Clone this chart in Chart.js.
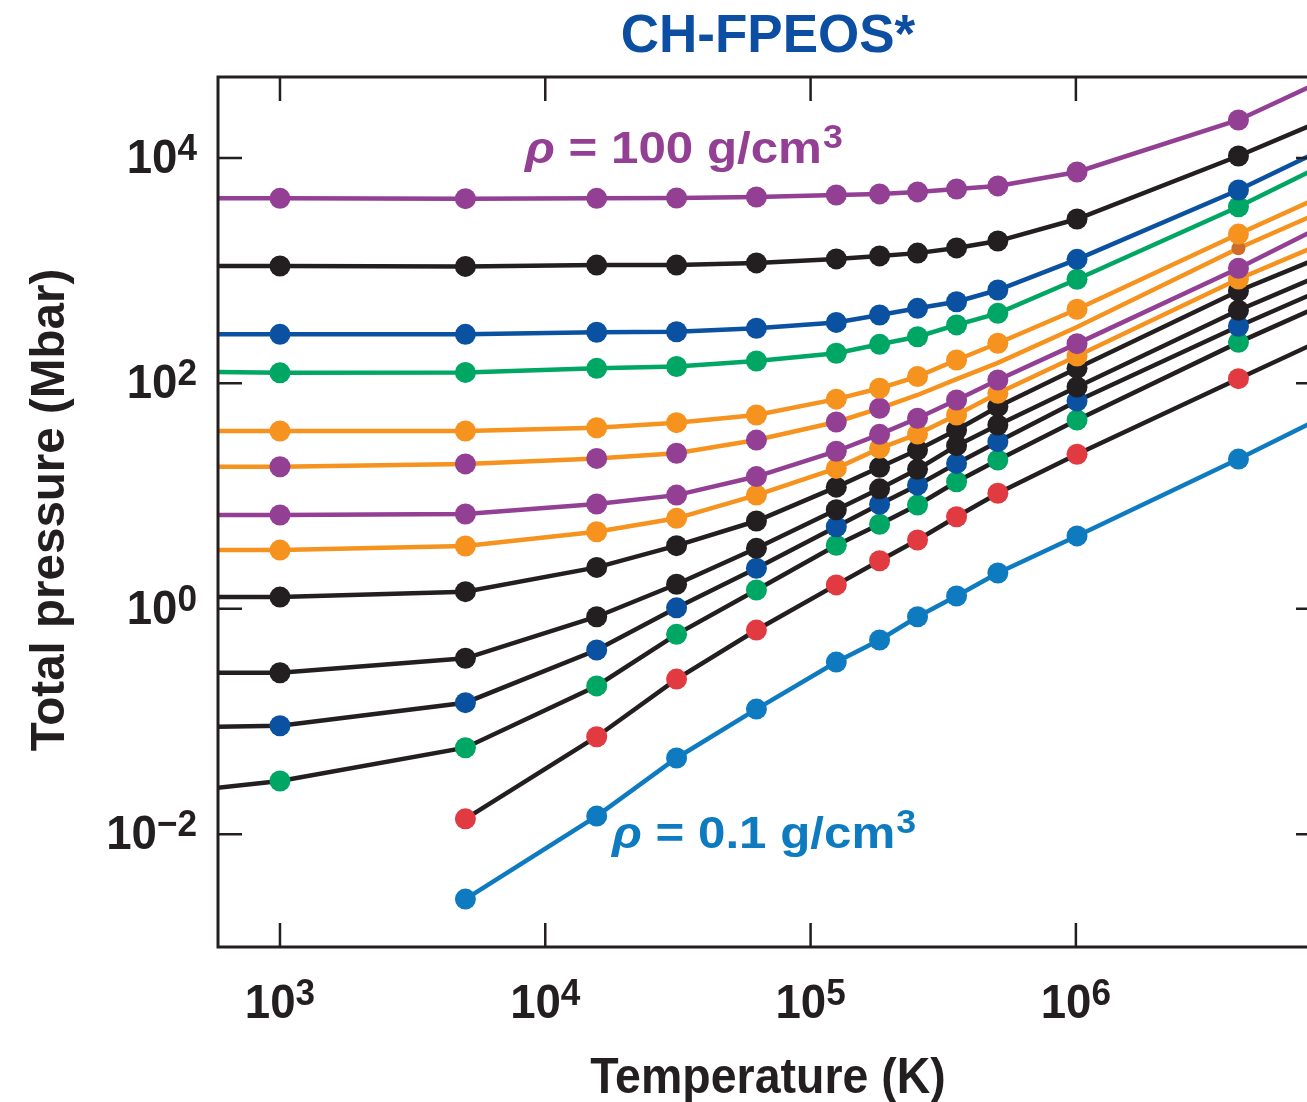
<!DOCTYPE html>
<html>
<head>
<meta charset="utf-8">
<script src="https://cdn.jsdelivr.net/npm/chart.js@4.4.1/dist/chart.umd.min.js"></script>
<style>
html, body { margin: 0; padding: 0; background: #fff; overflow: hidden; }
canvas { display: block; }
</style>
</head>
<body>
<canvas id="chart" width="1330" height="1102"></canvas>
<script>
// temperatures (K); first and last entries sit just outside the visible axis range
const temps = [500, 1000, 5000, 15625, 31250, 62500, 125000, 182000, 253000, 355000, 508000, 1010000, 4100000, 10000000];

// total pressure (Mbar), one array per isochore, highest density first
const rho100 = [4380, 4380, 4350, 4380, 4410, 4500, 4690, 4790, 4990, 5300, 5640, 7500, 21700, 57800];
const iso2 = [1100, 1100, 1090, 1120, 1120, 1170, 1270, 1350, 1430, 1590, 1830, 2870, 10400, 25300];
const iso3 = [272, 272, 272, 284, 287, 308, 347, 404, 463, 530, 673, 1260, 5190, 14300];
const iso4 = [127, 124, 125, 136, 141, 158, 185, 222, 259, 330, 418, 838, 3690, 10400];
const iso5 = [37.8, 37.8, 37.8, 40.4, 44.8, 52.4, 72.4, 90.4, 115, 161, 227, 454, 2110, 5470];
const iso6 = [18.2, 18.2, 19.3, 21.6, 24.0, 31.4, 45.4, 60.1, 78.9, 109, 152, 316, 1580, 3980];
const iso7 = [6.80, 6.80, 6.94, 8.51, 10.2, 14.9, 25.0, 35.3, 49.0, 71.2, 107, 225, 1050, 3010];
const iso8 = [3.32, 3.32, 3.61, 4.83, 6.35, 10.2, 17.6, 26.5, 35.5, 52.4, 81.6, 175, 843, 2050];
const iso9 = [1.27, 1.27, 1.42, 2.33, 3.63, 6.01, 12.0, 18.0, 25.6, 38.6, 62.1, 136, 660, 1560];
const iso10 = [0.271, 0.271, 0.364, 0.851, 1.65, 3.44, 7.57, 11.6, 17.3, 28.0, 42.7, 92.8, 445, 1090];
const iso11 = [0.0894, 0.0918, 0.147, 0.431, 1.02, 2.29, 5.35, 8.46, 12.5, 19.5, 30.4, 69.7, 321, 803];
const iso12 = [0.0249, 0.0297, 0.0586, 0.207, 0.594, 1.47, 3.66, 5.62, 8.34, 13.4, 20.9, 47.3, 231, 588];
const iso13 = [null, null, 0.0137, 0.0733, 0.238, 0.648, 1.63, 2.67, 4.08, 6.56, 10.6, 23.5, 110, 291];
const rho01 = [null, null, 0.00266, 0.0145, 0.0475, 0.129, 0.337, 0.529, 0.851, 1.30, 2.08, 4.43, 21.3, 60.4];

const xTicks = [1e3, 1e4, 1e5, 1e6];
const yTicks = [1e-2, 1, 1e2, 1e4];

const PURPLE = '#923f94', BLACK = '#231f20', BLUE = '#0b51a1', GREEN = '#00a664',
      ORANGE = '#f6921e', RED = '#e13b41', LBLUE = '#0e7bc1';

const xMin = 584, xMax = 8.32e6;

// [values, line colour, marker colour]
const series = [
    [rho100, PURPLE, PURPLE],
    [iso2, BLACK, BLACK],
    [iso3, BLUE, BLUE],
    [iso4, GREEN, GREEN],
    [iso5, ORANGE, ORANGE],
    [iso6, ORANGE, PURPLE],
    [iso7, PURPLE, PURPLE],
    [iso8, ORANGE, ORANGE],
    [iso9, BLACK, BLACK],
    [iso10, BLACK, BLACK],
    [iso11, BLACK, BLUE],
    [iso12, BLACK, GREEN],
    [iso13, BLACK, RED],
    [rho01, LBLUE, LBLUE]
];

// iso6 has no markers drawn between 2.5e5 and 1e6 K
const bareIndex = { 5: [8, 9, 10, 11] };

const datasets = series.map(([vals, line, mark], k) => ({
    data: temps.map((t, i) => ({ x: t, y: vals[i] })),
    borderColor: line,
    backgroundColor: mark,
    borderWidth: 4.5,
    tension: 0,
    pointBorderWidth: 0,
    pointBackgroundColor: ctx => (k === 5 && ctx.dataIndex === 12) ? '#cf6d28' : mark,
    pointRadius: ctx => {
        const t = temps[ctx.dataIndex];
        if (t < xMin || t > xMax) return 0;
        if (bareIndex[k] && bareIndex[k].includes(ctx.dataIndex)) return 0;
        if (k === 5 && ctx.dataIndex === 12) return 7;
        return 10.5;
    },
    pointHoverRadius: 10
}));

const FONT = '"Liberation Sans", Arial, sans-serif';

function txt(ctx, s, x, y, size, o = {}) {
    ctx.save();
    ctx.font = (o.italic ? 'italic ' : '') + 'bold ' + size + 'px ' + FONT;
    ctx.fillStyle = o.color || BLACK;
    ctx.textAlign = o.align || 'left';
    ctx.textBaseline = 'alphabetic';
    ctx.translate(x, y);
    if (o.rot) ctx.rotate(o.rot);
    ctx.scale(o.sx || 1, 1);
    ctx.fillText(s, 0, 0);
    const w = ctx.measureText(s).width * (o.sx || 1);
    ctx.restore();
    return w;
}

function measure(ctx, s, size, sx = 1) {
    ctx.save();
    ctx.font = 'bold ' + size + 'px ' + FONT;
    const w = ctx.measureText(s).width * sx;
    ctx.restore();
    return w;
}

function expText(v) {
    const e = Math.round(Math.log10(v));
    return e < 0 ? '\u2212' + (-e) : String(e);
}

const decor = {
    id: 'decor',
    afterDraw(chart) {
        const { ctx, chartArea: a, scales: { x, y } } = chart;
        ctx.save();
        // frame
        ctx.strokeStyle = BLACK;
        ctx.lineWidth = 3;
        ctx.strokeRect(a.left, a.top, a.right - a.left, a.bottom - a.top);
        // inward ticks
        ctx.lineWidth = 2.5;
        ctx.beginPath();
        xTicks.forEach(v => {
            const px = x.getPixelForValue(v);
            ctx.moveTo(px, a.bottom); ctx.lineTo(px, a.bottom - 24);
            ctx.moveTo(px, a.top); ctx.lineTo(px, a.top + 24);
        });
        yTicks.forEach(v => {
            const py = y.getPixelForValue(v);
            ctx.moveTo(a.left, py); ctx.lineTo(a.left + 24, py);
            ctx.moveTo(a.right, py); ctx.lineTo(a.right - 24, py);
        });
        ctx.stroke();
        ctx.restore();

        // tick labels: 10 with superscript exponent
        const bs = 48, es = 37, sx = 0.95;
        yTicks.forEach(v => {
            const py = y.getPixelForValue(v);
            const ex = expText(v);
            const wb = measure(ctx, '10', bs, sx), we = measure(ctx, ex, es, sx);
            const right = 197;
            txt(ctx, '10', right - we - wb, py + 15, bs, { sx });
            txt(ctx, ex, right - we, py + 2, es, { sx });
        });
        xTicks.forEach(v => {
            const px = x.getPixelForValue(v);
            const ex = expText(v);
            const wb = measure(ctx, '10', bs, sx), we = measure(ctx, ex, es, sx);
            const left = px - (wb + we) / 2;
            txt(ctx, '10', left, 1018, bs, { sx });
            txt(ctx, ex, left + wb, 1005, es, { sx });
        });

        // axis titles
        txt(ctx, 'Temperature (K)', 768, 1093, 50, { align: 'center', sx: 0.93 });
        txt(ctx, 'Total pressure (Mbar)', 64, 510, 49, { align: 'center', sx: 0.97, rot: -Math.PI / 2 });

        // chart title
        txt(ctx, 'CH-FPEOS*', 768, 52, 53, { align: 'center', color: '#0b4ea2' });

        // isochore labels
        const lab = (x0, base, color, num) => {
            const s = 1.12, f = 44;
            let cx = x0;
            cx += txt(ctx, '\u03c1', cx, base, f, { italic: true, color, sx: s });
            cx += txt(ctx, ' = ' + num + ' g/cm', cx, base, f, { color, sx: s });
            txt(ctx, '3', cx + 1, base - 15, 34, { color, sx: 1.05 });
        };
        lab(525, 163, PURPLE, '100');
        lab(612, 848, LBLUE, '0.1');
    }
};

new Chart(document.getElementById('chart'), {
    type: 'line',
    data: { datasets },
    options: {
        responsive: false,
        animation: false,
        layout: { padding: { left: 218, right: 10, top: 77, bottom: 155 } },
        plugins: {
            legend: { display: false },
            tooltip: { enabled: false },
            title: { display: false }
        },
        scales: {
            x: { type: 'logarithmic', min: xMin, max: xMax, display: false },
            y: { type: 'logarithmic', min: 1e-3, max: 5.22e4, display: false }
        }
    },
    plugins: [decor]
});
</script>
</body>
</html>
